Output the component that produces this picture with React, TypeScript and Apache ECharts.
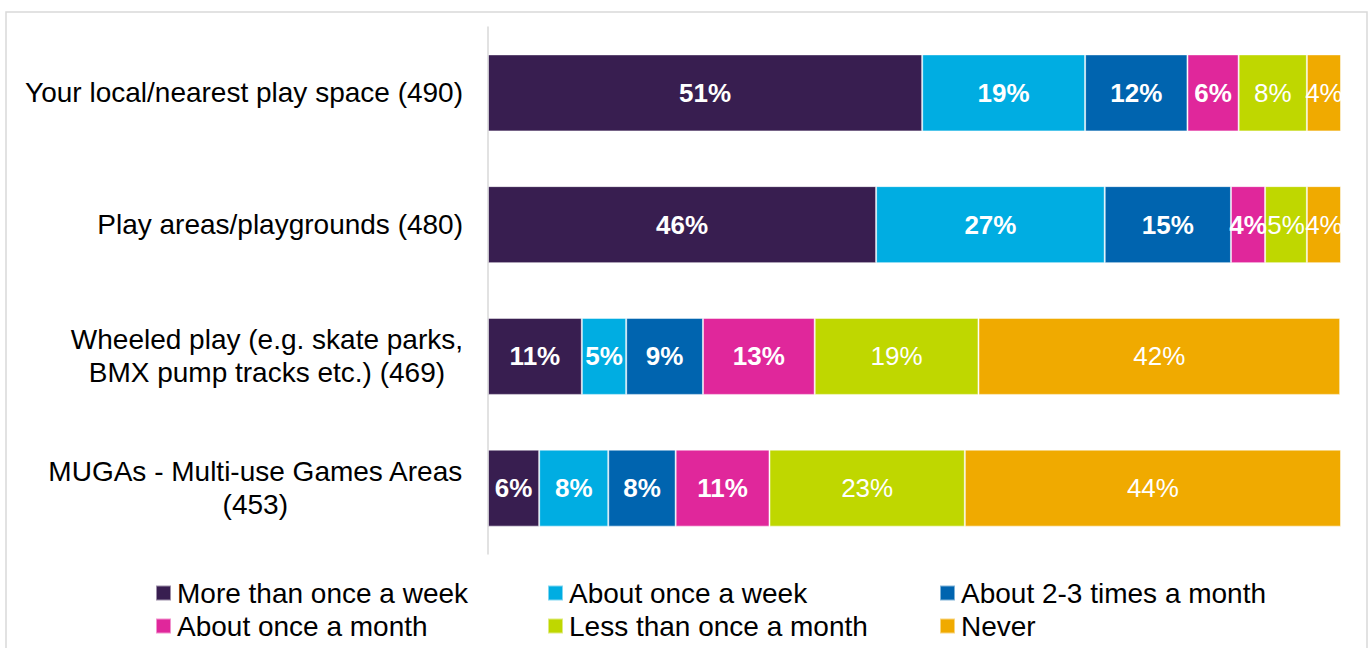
import React, { useEffect, useRef } from "react";
import * as echarts from "echarts";

const categories = [
  "Your local/nearest play space (490)",
  "Play areas/playgrounds (480)",
  "Wheeled play (e.g. skate parks,\nBMX pump tracks etc.) (469)",
  "MUGAs - Multi-use Games Areas\n(453)",
];

const seriesNames = [
  "More than once a week",
  "About once a week",
  "About 2-3 times a month",
  "About once a month",
  "Less than once a month",
  "Never",
];

const moreThanOnceAWeek = [50.9, 45.5, 11.0, 6.0];
const aboutOnceAWeek = [19.1, 26.8, 5.2, 8.1];
const about23TimesAMonth = [12.0, 14.8, 9.0, 7.9];
const aboutOnceAMonth = [6.0, 4.0, 13.1, 11.0];
const lessThanOnceAMonth = [8.0, 4.9, 19.2, 22.9];
const never = [4.0, 4.0, 42.4, 44.1];

const seriesValues = [
  moreThanOnceAWeek,
  aboutOnceAWeek,
  about23TimesAMonth,
  aboutOnceAMonth,
  lessThanOnceAMonth,
  never,
];

const colors = ["#381e50", "#00ade2", "#0064af", "#e0279b", "#bfd700", "#f0aa00"];
const boldLabels = [true, true, true, true, false, false];

const FONT = "'Liberation Sans', Arial, Helvetica, sans-serif";

export default function App() {
  const ref = useRef<HTMLDivElement>(null);

  useEffect(() => {
    if (!ref.current) return;
    const chart = echarts.init(ref.current, undefined, { renderer: "svg" });
    chart.setOption({
      animation: false,
      color: colors,
      textStyle: { fontFamily: FONT },
      graphic: [
        {
          type: "rect",
          shape: { x: 6, y: 12, width: 1361, height: 660 },
          style: { fill: "none", stroke: "#d9d9d9", lineWidth: 1.5 },
          silent: true,
        },
      ],
      grid: { left: 488, right: 30, top: 27, bottom: 94, containLabel: false },
      xAxis: { type: "value", min: 0, max: 100, show: false },
      yAxis: {
        type: "category",
        inverse: true,
        data: categories,
        axisTick: { show: false },
        axisLine: { show: true, lineStyle: { color: "#d9d9d9", width: 1.5 } },
        axisLabel: {
          margin: 25,
          align: "right",
          color: "#000",
          fontSize: 28,
          lineHeight: 33,
          fontFamily: FONT,
          formatter: (v: string) =>
            v
              .split("\n")
              .map((l) => "{c|" + l + "}")
              .join("\n"),
          rich: {
            c: {
              align: "center",
              fontSize: 28,
              lineHeight: 33,
              color: "#000",
              fontFamily: FONT,
            },
          },
        },
      },
      legend: {
        left: 155,
        top: 578,
        width: 1195,
        padding: 0,
        itemWidth: 15,
        itemHeight: 15,
        itemGap: 3,
        icon: "rect",
        textStyle: {
          fontSize: 28,
          color: "#000",
          fontFamily: FONT,
          width: 367,
          lineHeight: 30,
          padding: [0, 0, 0, 1],
        },
        data: seriesNames,
      },
      series: seriesNames.map((name, i) => ({
        name,
        type: "bar",
        stack: "total",
        barWidth: 77,
        data: seriesValues[i],
        itemStyle: { color: colors[i], borderColor: "rgba(255,255,255,0.5)", borderWidth: 1 },
        label: {
          show: true,
          position: "inside",
          color: "#fff",
          fontSize: 26,
          fontWeight: boldLabels[i] ? "bold" : "normal",
          fontFamily: FONT,
          formatter: (p: any) => Math.round(p.value) + "%",
        },
      })),
    });
    return () => chart.dispose();
  }, []);

  return (
    <div
      ref={ref}
      style={{ position: "fixed", left: 0, top: 0, width: 1371, height: 648, background: "#fff" }}
    />
  );
}
